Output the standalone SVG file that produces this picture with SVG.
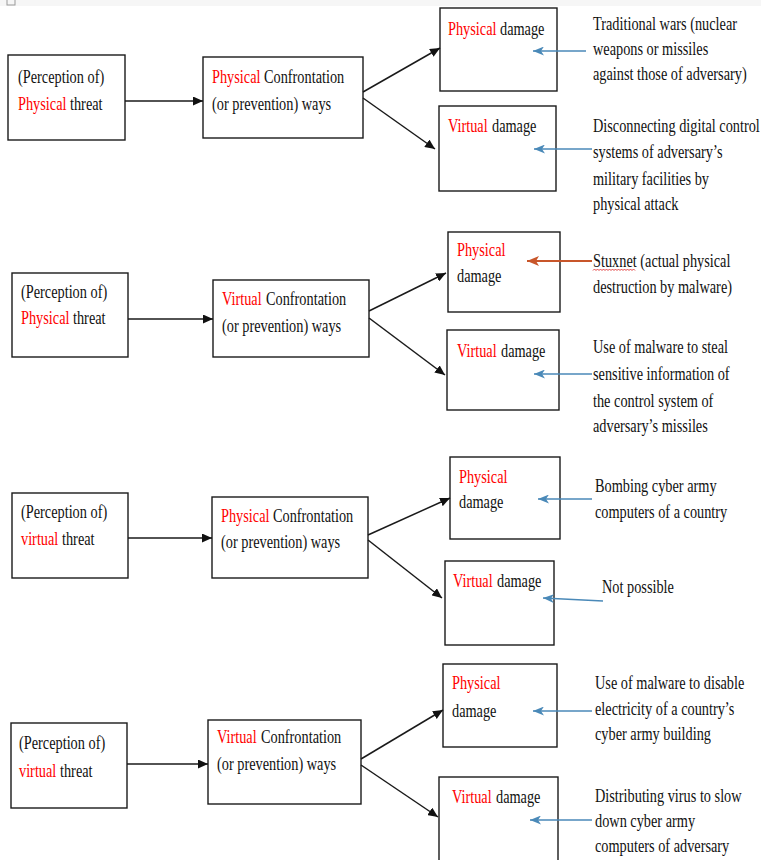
<svg xmlns="http://www.w3.org/2000/svg" width="761" height="860" viewBox="0 0 761 860">
<style>
.box{fill:#fff;stroke:#1a1a1a;stroke-width:1.4}
.t{font-family:"Liberation Serif","Times New Roman",serif;font-size:18px;fill:#111}
.r{fill:#ff0000}
.k{stroke:#1a1a1a;stroke-width:1.5;fill:none}
.b{stroke:#4a89b8;stroke-width:1.6;fill:none}
.o{stroke:#c8562a;stroke-width:1.8;fill:none}
</style>
<defs>
<marker id="ak" markerUnits="userSpaceOnUse" markerWidth="10" markerHeight="9" refX="10" refY="4.5" orient="auto"><path d="M0,0 L10,4.5 L0,9 z" fill="#111"/></marker>
<marker id="ab" markerUnits="userSpaceOnUse" markerWidth="11" markerHeight="9" refX="11" refY="4.5" orient="auto"><path d="M0,0 L11,4.5 L0,9 L3,4.5 z" fill="#4a89b8"/></marker>
<marker id="ao" markerUnits="userSpaceOnUse" markerWidth="12" markerHeight="10" refX="12" refY="5" orient="auto"><path d="M0,0 L12,5 L0,10 L3,5 z" fill="#c8562a"/></marker>
</defs>
<rect x="0" y="0" width="761" height="6" fill="#f6f6f6"/>
<rect x="7" y="-3" width="8" height="8" fill="none" stroke="#9a9a9a" stroke-width="1"/>

<!-- Row 1 -->
<g id="threat1"><rect class="box" x="8" y="55" width="117" height="85"/>
<text class="t" transform="translate(18 83) scale(.795 1)">(Perception of)</text>
<text class="t r" transform="translate(18 110) scale(.795 1)">Physical</text>
<text class="t" transform="translate(70 110) scale(.795 1)">threat</text></g>
<g id="confront1"><rect class="box" x="203" y="57" width="160" height="81"/>
<text class="t r" transform="translate(212 83) scale(.795 1)">Physical</text>
<text class="t" transform="translate(264 83) scale(.795 1)">Confrontation</text>
<text class="t" transform="translate(212 110) scale(.795 1)">(or prevention) ways</text></g>
<g id="pdmg1"><rect class="box" x="440" y="8" width="117" height="83"/>
<text class="t r" transform="translate(448 35) scale(.795 1)">Physical</text>
<text class="t" transform="translate(500 35) scale(.795 1)">damage</text></g>
<g id="vdmg1"><rect class="box" x="439" y="106" width="117" height="85"/>
<text class="t r" transform="translate(448 132) scale(.795 1)">Virtual</text>
<text class="t" transform="translate(492 132) scale(.795 1)">damage</text></g>
<g id="note1a">
<text class="t" transform="translate(593 30) scale(.795 1)">Traditional wars (nuclear</text>
<text class="t" transform="translate(593 55) scale(.795 1)">weapons or missiles</text>
<text class="t" transform="translate(593 80) scale(.795 1)">against those of adversary)</text></g>
<g id="note1b">
<text class="t" transform="translate(593 132) scale(.795 1)">Disconnecting digital control</text>
<text class="t" transform="translate(593 158) scale(.795 1)">systems of adversary’s</text>
<text class="t" transform="translate(593 185) scale(.795 1)">military facilities by</text>
<text class="t" transform="translate(593 210) scale(.795 1)">physical attack</text></g>

<!-- Row 2 -->
<g id="threat2"><rect class="box" x="12" y="273" width="116" height="84"/>
<text class="t" transform="translate(21 298) scale(.795 1)">(Perception of)</text>
<text class="t r" transform="translate(21 324) scale(.795 1)">Physical</text>
<text class="t" transform="translate(73 324) scale(.795 1)">threat</text></g>
<g id="confront2"><rect class="box" x="213" y="280" width="156" height="77"/>
<text class="t r" transform="translate(222 305) scale(.795 1)">Virtual</text>
<text class="t" transform="translate(266 305) scale(.795 1)">Confrontation</text>
<text class="t" transform="translate(222 332) scale(.795 1)">(or prevention) ways</text></g>
<g id="pdmg2"><rect class="box" x="448" y="232" width="112" height="80"/>
<text class="t r" transform="translate(457 256) scale(.795 1)">Physical</text>
<text class="t" transform="translate(457 282) scale(.795 1)">damage</text></g>
<g id="vdmg2"><rect class="box" x="447" y="330" width="112" height="80"/>
<text class="t r" transform="translate(457 357) scale(.795 1)">Virtual</text>
<text class="t" transform="translate(501 357) scale(.795 1)">damage</text></g>
<g id="note2a">
<text class="t" transform="translate(593 267) scale(.795 1)">Stuxnet (actual physical</text>
<path d="M593,270.5 l1.5,-1.5 l1.5,1.5 l1.5,-1.5 l1.5,1.5 l1.5,-1.5 l1.5,1.5 l1.5,-1.5 l1.5,1.5 l1.5,-1.5 l1.5,1.5 l1.5,-1.5 l1.5,1.5 l1.5,-1.5 l1.5,1.5 l1.5,-1.5 l1.5,1.5 l1.5,-1.5 l1.5,1.5 l1.5,-1.5 l1.5,1.5 l1.5,-1.5 l1.5,1.5 l1.5,-1.5 l1.5,1.5 l1.5,-1.5 l1.5,1.5 l1.5,-1.5 l1.5,1.5" fill="none" stroke="#e03030" stroke-width="0.9"/>
<text class="t" transform="translate(593 293) scale(.795 1)">destruction by malware)</text></g>
<g id="note2b">
<text class="t" transform="translate(593 353) scale(.795 1)">Use of malware to steal</text>
<text class="t" transform="translate(593 380) scale(.795 1)">sensitive information of</text>
<text class="t" transform="translate(593 407) scale(.795 1)">the control system of</text>
<text class="t" transform="translate(593 432) scale(.795 1)">adversary’s missiles</text></g>

<!-- Row 3 -->
<g id="threat3"><rect class="box" x="12" y="493" width="116" height="85"/>
<text class="t" transform="translate(21 518) scale(.795 1)">(Perception of)</text>
<text class="t r" transform="translate(21 545) scale(.795 1)">virtual</text>
<text class="t" transform="translate(62 545) scale(.795 1)">threat</text></g>
<g id="confront3"><rect class="box" x="212" y="497" width="156" height="81"/>
<text class="t r" transform="translate(221 522) scale(.795 1)">Physical</text>
<text class="t" transform="translate(273 522) scale(.795 1)">Confrontation</text>
<text class="t" transform="translate(221 548) scale(.795 1)">(or prevention) ways</text></g>
<g id="pdmg3"><rect class="box" x="450" y="457" width="110" height="82"/>
<text class="t r" transform="translate(459 483) scale(.795 1)">Physical</text>
<text class="t" transform="translate(459 508) scale(.795 1)">damage</text></g>
<g id="vdmg3"><rect class="box" x="445" y="561" width="109" height="84"/>
<text class="t r" transform="translate(453 587) scale(.795 1)">Virtual</text>
<text class="t" transform="translate(497 587) scale(.795 1)">damage</text></g>
<g id="note3a">
<text class="t" transform="translate(595 492) scale(.795 1)">Bombing cyber army</text>
<text class="t" transform="translate(595 518) scale(.795 1)">computers of a country</text></g>
<g id="note3b">
<text class="t" transform="translate(602 593) scale(.795 1)">Not possible</text></g>

<!-- Row 4 -->
<g id="threat4"><rect class="box" x="11" y="723" width="116" height="85"/>
<text class="t" transform="translate(19 749) scale(.795 1)">(Perception of)</text>
<text class="t r" transform="translate(19 777) scale(.795 1)">virtual</text>
<text class="t" transform="translate(60 777) scale(.795 1)">threat</text></g>
<g id="confront4"><rect class="box" x="208" y="720" width="153" height="84"/>
<text class="t r" transform="translate(217 743) scale(.795 1)">Virtual</text>
<text class="t" transform="translate(261 743) scale(.795 1)">Confrontation</text>
<text class="t" transform="translate(217 770) scale(.795 1)">(or prevention) ways</text></g>
<g id="pdmg4"><rect class="box" x="443" y="664" width="114" height="83"/>
<text class="t r" transform="translate(452 689) scale(.795 1)">Physical</text>
<text class="t" transform="translate(452 717) scale(.795 1)">damage</text></g>
<g id="vdmg4"><rect class="box" x="439" y="777" width="119" height="90"/>
<text class="t r" transform="translate(452 803) scale(.795 1)">Virtual</text>
<text class="t" transform="translate(496 803) scale(.795 1)">damage</text></g>
<g id="note4a">
<text class="t" transform="translate(595 689) scale(.795 1)">Use of malware to disable</text>
<text class="t" transform="translate(595 715) scale(.795 1)">electricity of a country’s</text>
<text class="t" transform="translate(595 740) scale(.795 1)">cyber army building</text></g>
<g id="note4b">
<text class="t" transform="translate(595 802) scale(.795 1)">Distributing virus to slow</text>
<text class="t" transform="translate(595 827) scale(.795 1)">down cyber army</text>
<text class="t" transform="translate(595 852) scale(.795 1)">computers of adversary</text></g>

<g id="connectors">
<line class="k" x1="125" y1="101" x2="203" y2="101" marker-end="url(#ak)"/>
<line class="k" x1="363" y1="92" x2="440" y2="48" marker-end="url(#ak)"/>
<line class="k" x1="363" y1="98" x2="435" y2="149" marker-end="url(#ak)"/>
<line class="b" x1="586" y1="51" x2="533" y2="51" marker-end="url(#ab)"/>
<line class="b" x1="592" y1="149" x2="534" y2="149" marker-end="url(#ab)"/>

<line class="k" x1="128" y1="319" x2="213" y2="319" marker-end="url(#ak)"/>
<line class="k" x1="369" y1="311" x2="446" y2="273" marker-end="url(#ak)"/>
<line class="k" x1="369" y1="318" x2="445" y2="375" marker-end="url(#ak)"/>
<line class="o" x1="592" y1="261" x2="527" y2="261" marker-end="url(#ao)"/>
<line class="b" x1="592" y1="374" x2="534" y2="374" marker-end="url(#ab)"/>

<line class="k" x1="128" y1="538" x2="212" y2="538" marker-end="url(#ak)"/>
<line class="k" x1="368" y1="535" x2="450" y2="498" marker-end="url(#ak)"/>
<line class="k" x1="368" y1="540" x2="442" y2="598" marker-end="url(#ak)"/>
<line class="b" x1="592" y1="499" x2="538" y2="499" marker-end="url(#ab)"/>
<line class="b" x1="603" y1="601" x2="543" y2="598" marker-end="url(#ab)"/>

<line class="k" x1="127" y1="764" x2="208" y2="764" marker-end="url(#ak)"/>
<line class="k" x1="361" y1="759" x2="443" y2="710" marker-end="url(#ak)"/>
<line class="k" x1="361" y1="765" x2="438" y2="817" marker-end="url(#ak)"/>
<line class="b" x1="592" y1="711" x2="533" y2="711" marker-end="url(#ab)"/>
<line class="b" x1="592" y1="820" x2="530" y2="820" marker-end="url(#ab)"/>
</g>
</svg>
